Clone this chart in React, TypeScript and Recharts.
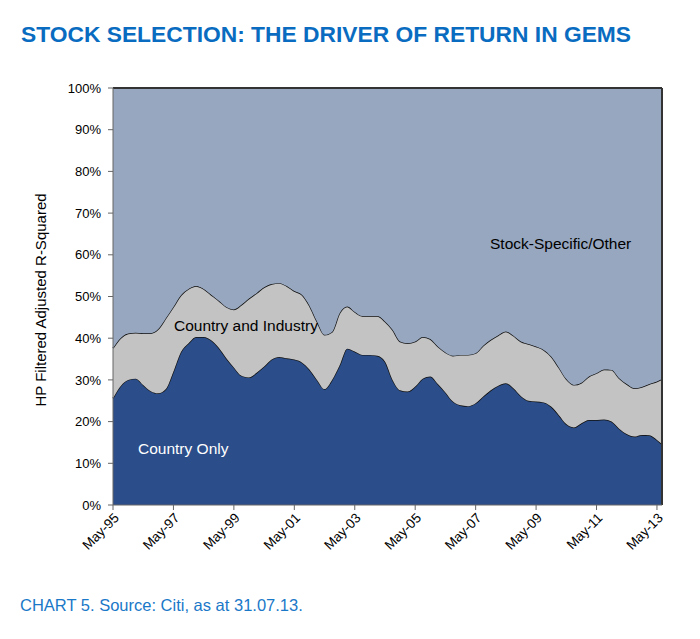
import { Area, AreaChart, ReferenceLine, XAxis, YAxis } from "recharts";

// months since May-95, sampled quarterly (last point Jul-13)
const months = [
  0, 3, 6, 9, 12, 15, 18, 21, 24, 27, 30, 33, 36, 39, 42, 45, 48, 51, 54, 57,
  60, 63, 66, 69, 72, 75, 78, 81, 84, 87, 90, 93, 96, 99, 102, 105, 108, 111,
  114, 117, 120, 123, 126, 129, 132, 135, 138, 141, 144, 147, 150, 153, 156,
  159, 162, 165, 168, 171, 174, 177, 180, 183, 186, 189, 192, 195, 198, 201,
  204, 207, 210, 213, 216, 218,
];

const countryOnly = [
  25.6, 28.5, 30.0, 30.3, 28.8, 27.3, 26.8, 27.8, 32.0, 36.7, 38.8, 40.3, 40.3,
  39.5, 37.7, 35.2, 33.0, 31.0, 30.6, 31.7, 33.2, 34.9, 35.5, 35.2, 34.9, 34.2,
  32.5, 30.0, 27.8, 30.0, 33.5, 37.5, 36.8, 36.0, 36.0, 35.8, 34.4, 30.0, 27.5,
  27.2, 28.4, 30.3, 30.8, 29.0, 27.0, 24.8, 23.9, 23.7, 24.4, 26.0, 27.5, 28.6,
  29.2, 28.0, 26.1, 25.0, 24.8, 24.6, 23.6, 21.6, 19.4, 18.6, 19.6, 20.4, 20.4,
  20.5, 20.0, 18.3, 17.0, 16.4, 16.8, 16.7, 15.6, 14.6,
];

// top of the "Country and Industry" band (cumulative)
const countryAndIndustryTop = [
  37.6, 40.0, 41.1, 41.3, 41.2, 41.2, 42.2, 44.8, 47.5, 50.3, 51.8, 52.5, 51.8,
  50.4, 49.0, 47.5, 46.9, 48.0, 49.5, 50.8, 52.2, 53.0, 53.2, 52.5, 51.3, 50.4,
  47.8, 44.0, 40.8, 41.5, 46.0, 47.6, 46.3, 45.3, 45.3, 45.3, 44.0, 42.0, 39.2,
  38.8, 39.2, 40.3, 39.8, 38.0, 36.6, 35.8, 36.0, 36.0, 36.4, 38.2, 39.6, 40.7,
  41.6, 40.6, 39.2, 38.6, 38.0, 37.2, 35.6, 33.0, 30.2, 28.8, 29.3, 30.8, 31.6,
  32.5, 32.4, 30.4, 29.0, 28.0, 28.3, 29.0, 29.6, 30.2,
];

const tickMonths = [0, 24, 48, 72, 96, 120, 144, 168, 192, 216];
const tickLabels = [
  "May-95", "May-97", "May-99", "May-01", "May-03",
  "May-05", "May-07", "May-09", "May-11", "May-13",
];
const yTicks = [0, 10, 20, 30, 40, 50, 60, 70, 80, 90, 100];

const data = months.map((m, i) => ({
  m,
  country: countryOnly[i],
  industry: +(countryAndIndustryTop[i] - countryOnly[i]).toFixed(1),
  other: +(100 - countryAndIndustryTop[i]).toFixed(1),
}));

const font = "'Liberation Sans', Arial, sans-serif";

const App = () => {
  return (
    <div
      style={{
        position: "relative",
        width: 700,
        height: 639,
        margin: -8,
        background: "#fff",
        fontFamily: font,
      }}
    >
      <div
        style={{
          position: "absolute",
          left: 21,
          top: 21,
          fontSize: 22.8,
          fontWeight: "bold",
          color: "#0A6CC0",
          whiteSpace: "nowrap",
        }}
      >
        STOCK SELECTION: THE DRIVER OF RETURN IN GEMS
      </div>

      <div style={{ position: "absolute", left: 0, top: 0 }}>
        <AreaChart
          width={700}
          height={639}
          data={data}
          margin={{ top: 88, right: 38, left: 53, bottom: 74 }}
        >
          <XAxis
            dataKey="m"
            type="number"
            domain={[0, 218]}
            ticks={tickMonths}
            tickFormatter={(v) => tickLabels[tickMonths.indexOf(v)]}
            height={60}
            angle={-45}
            textAnchor="end"
            interval={0}
            tick={{ fontSize: 13.5, fill: "#000", fontFamily: font }}
            stroke="#666"
            tickSize={5}
          />
          <YAxis
            domain={[0, 100]}
            ticks={yTicks}
            tickFormatter={(v) => `${v}%`}
            width={60}
            tick={{ fontSize: 13, fill: "#000", fontFamily: font }}
            stroke="#666"
            tickSize={5}
            tickMargin={7}
          />
          <Area
            type="monotone"
            dataKey="country"
            stackId="1"
            fill="#2B4E8A"
            fillOpacity={1}
            stroke="#111"
            strokeWidth={1.4}
            isAnimationActive={false}
          />
          <Area
            type="monotone"
            dataKey="industry"
            stackId="1"
            fill="#C3C3C3"
            fillOpacity={1}
            stroke="#111"
            strokeWidth={1.4}
            isAnimationActive={false}
          />
          <Area
            type="monotone"
            dataKey="other"
            stackId="1"
            fill="#97A7BF"
            fillOpacity={1}
            stroke="#333"
            strokeWidth={2}
            isAnimationActive={false}
          />
          <ReferenceLine x={218} stroke="#333" strokeWidth={2} />
        </AreaChart>
      </div>

      <div
        style={{
          position: "absolute",
          left: 40,
          top: 300,
          transform: "translate(-50%, -50%) rotate(-90deg)",
          fontSize: 15,
          whiteSpace: "nowrap",
          color: "#000",
        }}
      >
        HP Filtered Adjusted R-Squared
      </div>

      <div style={{ position: "absolute", left: 138, top: 440, fontSize: 15.5, color: "#fff" }}>
        Country Only
      </div>
      <div style={{ position: "absolute", left: 174, top: 317, fontSize: 15.5, color: "#000" }}>
        Country and Industry
      </div>
      <div style={{ position: "absolute", left: 490, top: 235, fontSize: 15.5, color: "#000" }}>
        Stock-Specific/Other
      </div>

      <div
        style={{
          position: "absolute",
          left: 20,
          top: 596,
          fontSize: 16.5,
          color: "#1A78C8",
          whiteSpace: "nowrap",
        }}
      >
        CHART 5. Source: Citi, as at 31.07.13.
      </div>
    </div>
  );
};

export default App;
